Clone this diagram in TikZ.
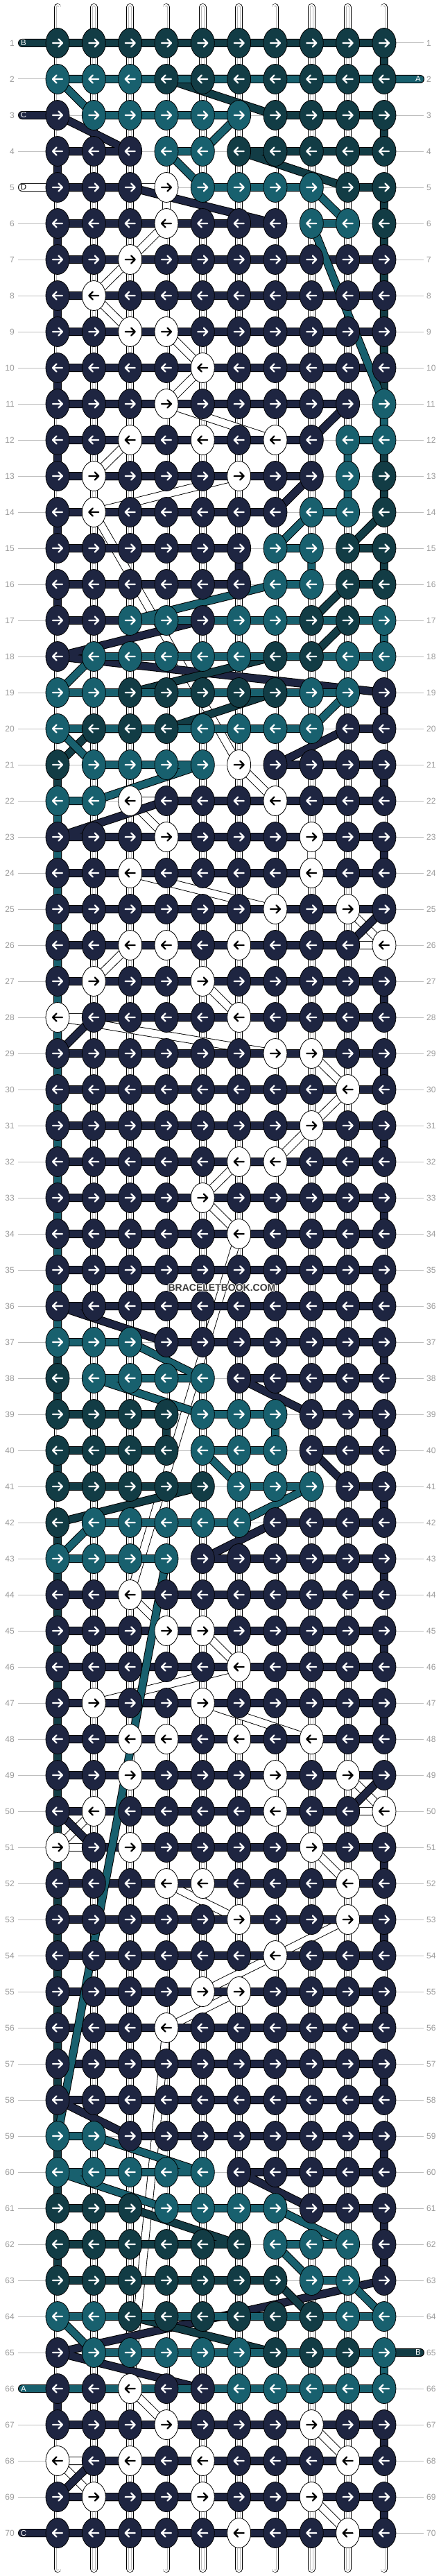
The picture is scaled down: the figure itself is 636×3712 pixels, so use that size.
\documentclass[tikz,border=0pt]{standalone}
\usepackage{fontspec}
\setmainfont{Liberation Sans}
\usetikzlibrary{shapes.geometric}

\definecolor{colA}{HTML}{18606E}
\definecolor{colB}{HTML}{123C45}
\definecolor{colC}{HTML}{1E2541}
\definecolor{colD}{HTML}{FFFFFF}
\definecolor{labgray}{HTML}{9A9A9A}
\definecolor{linegray}{HTML}{BEBEBE}
\definecolor{wmgray}{HTML}{3A3A3A}

\pgfdeclarelayer{strings}
\pgfdeclarelayer{threads}
\pgfsetlayers{strings,threads,main}

% colour of every knot, row by row, read from left to right
\newcommand{\knotrows}{%
1/BBBBBBBBBB,2/AAABBBBBBB,3/CAAAAABBBB,4/CCCAABBBBB,5/CCCDAAAABB,%
6/CCCDCCCAAB,7/CCDCCCCCCC,8/CDCCCCCCCC,9/CCDDCCCCCC,10/CCCCDCCCCC,%
11/CCCDCCCCCA,12/CCDCDCDCAA,13/CDCCCDCCAB,14/CDCCCCCAAB,15/CCCCCCAABB,%
16/CCCCCCAABB,17/CCAACAABBA,18/CAAAAABBAA,19/AABBBBBAAC,20/ABBBAAAACC,%
21/BAAAADCCCC,22/AADCCCDCCC,23/CCCDCCCDCC,24/CCDCCCCDCC,25/CCCCCCDCDC,%
26/CCDDCDCCCD,27/CDCCDCCCCC,28/DCCCCDCCCC,29/CCCCCCDDCC,30/CCCCCCCCDC,%
31/CCCCCCCDCC,32/CCCCCDDCCC,33/CCCCDCCCCC,34/CCCCCDCCCC,35/CCCCCCCCCC,%
36/CCCCCCCCCC,37/AAACCCCCCC,38/BAAAACCCCC,39/BBBBAAACCC,40/BBBBAAACCC,%
41/BBBBBAAACC,42/BAAAAACCCC,43/AAAACCCCCC,44/CCDCCCCCCC,45/CCCDDCCCCC,%
46/CCCCCDCCCC,47/CDCCDCCCCC,48/CCDDCDCDCC,49/CCDCCCDCDC,50/CDCCCCDCCD,%
51/DCDCCCCDCC,52/CCCDDCCCDC,53/CCCCCDCCDC,54/CCCCCCDCCC,55/CCCCDDCCCC,%
56/CCCDCCCCCC,57/CCCCCCCCCC,58/CCCCCCCCCC,59/AACCCCCCCC,60/AAAAACCCCC,%
61/BBBAAAACCC,62/BBBBBBAAAC,63/BBBBBBBAAC,64/AABBBBBBAA,65/CAAAAABBBA,%
66/CCDCCAAAAA,67/CCCDCCCDCC,68/DCDCDCCCDC,69/CDCCDCCDCC,70/CCCCCDCCDC}

\newcount\knotcol
\newcommand{\storerow}[2]{\global\knotcol=0 \def\knotrowno{#1}\storeknot#2\relax}
\def\storeknot#1{%
  \ifx#1\relax\else
    \global\advance\knotcol by 1
    \expandafter\xdef\csname kc-\knotrowno-\the\knotcol\endcsname{#1}%
    \expandafter\storeknot
  \fi}

\begin{document}
\begin{tikzpicture}[x=1pt, y=-1pt, % one unit is one pixel, y runs down
  knot/.style={ellipse, draw=black, line width=0.8pt, minimum width=34pt,
    minimum height=43pt, inner sep=0pt}, % every knot
  knotA/.style={fill=colA}, knotB/.style={fill=colB},
  knotC/.style={fill=colC}, knotD/.style={fill=colD},
  arrowA/.style={draw=white, line width=2.3pt, line cap=round, line join=round},
  arrowB/.style={arrowA}, arrowC/.style={arrowA},
  arrowD/.style={arrowA, draw=black},
  threadedge/.style={draw=black, line width=12pt, line cap=round, line join=round},
  threadA/.style={threadedge, draw=colA, line width=10pt},
  threadB/.style={threadedge, draw=colB, line width=10pt},
  threadC/.style={threadedge, draw=colC, line width=10pt},
  threadD/.style={threadedge, draw=white, line width=10.2pt},
  warpedge/.style={draw=black, line width=10.5pt, line cap=round},
  warpfill/.style={draw=white, line width=9pt, line cap=round},
  warpmid/.style={draw=gray!55, line width=4.6pt, line cap=round},
  warpcore/.style={draw=white, line width=3pt, line cap=round},
  rowlab/.style={text=labgray, font=\fontsize{12}{12}\selectfont, inner sep=0pt},
  rowline/.style={draw=linegray, line width=1pt, shorten <=5pt, shorten >=4pt},
  taglab/.style={text=white, font=\fontsize{11.5}{11.5}\selectfont, inner sep=0pt},
  wmark/.style={text=wmgray, font=\bfseries\fontsize{14}{14}\selectfont, inner sep=0pt}
]
  \useasboundingbox (0,0) rectangle (636,3712);

  \foreach \rr/\rowcols in \knotrows {\edef\next{\noexpand\storerow{\rr}{\rowcols}}\next}

  % knots, arrows and row numbers
  \foreach \rr in {1,...,70}{
    \pgfmathsetmacro\ky{62+(\rr-1)*52}
    \ifodd\rr \def\kdir{1}\else \def\kdir{-1}\fi
    \pgfmathsetmacro\ashaft{-7*\kdir}
    \pgfmathsetmacro\alen{14*\kdir}
    \pgfmathsetmacro\ahead{-5.5*\kdir}
    \pgfmathsetmacro\aback{5.5*\kdir}
    \node[rowlab, anchor=east] (lab-l-\rr) at (21,\ky) {\rr};
    \node[rowlab, anchor=west] (lab-r-\rr) at (615,\ky) {\rr};
    \foreach \cc in {1,...,10}{
      \pgfmathsetmacro\kx{83+(\cc-1)*52.33}
      \edef\kc{\csname kc-\rr-\cc\endcsname}
      \edef\placeknot{\noexpand\node[knot, knot\kc] (k-\rr-\cc) at (\kx,\ky) {};
        \noexpand\draw[arrow\kc] (k-\rr-\cc.center) ++(\ashaft,0) -- ++(\alen,0)
          ++(\ahead,-5.5) -- ++(\aback,5.5) -- ++(\ahead,5.5);}
      \placeknot
    }
  }

  % ends of the four threads
  \coordinate (tagB-in) at (32,62);
  \coordinate (tagA-in) at (606,114);
  \coordinate (tagC-in) at (32,166);
  \coordinate (tagD-in) at (32,270);
  \coordinate (tagB-out) at (606,3390);
  \coordinate (tagA-out) at (32,3442);
  \coordinate (tagC-out) at (32,3650);
  \node[taglab] (lab-B-in) at (34,62) {B};
  \node[taglab] (lab-A-in) at (603,114) {A};
  \node[taglab] (lab-C-in) at (34,166) {C};
  \node[taglab, text=black] (lab-D-in) at (34,270) {D};
  \node[taglab] (lab-B-out) at (603,3390) {B};
  \node[taglab] (lab-A-out) at (34,3442) {A};
  \node[taglab] (lab-C-out) at (34,3650) {C};

  % watermark
  \foreach \dx/\dy [count=\i] in {-1/0,1/0,0/-1,0/1,-0.7/-0.7,0.7/0.7,-0.7/0.7,0.7/-0.7}
    \node[wmark, text=white] (wm-halo-\i) at (320+\dx,1856+\dy) {BRACELETBOOK.COM};
  \node[wmark] (wm) at (320,1856) {BRACELETBOOK.COM};

  \begin{pgfonlayer}{strings}
    \foreach \rr in {1,...,70}
      \draw[rowline] (lab-l-\rr.east) -- (lab-r-\rr.west);
    \foreach \cc in {1,...,10}{
      \coordinate (w-\cc-top) at ({83+(\cc-1)*52.33},10.25);
      \coordinate (w-\cc-bot) at ({83+(\cc-1)*52.33},3701.75);
      \draw[warpedge] (w-\cc-top) -- (w-\cc-bot);
      \draw[warpfill] (w-\cc-top) -- (w-\cc-bot);
      \draw[warpmid] (w-\cc-top) -- (w-\cc-bot);
      \draw[warpcore] (w-\cc-top) -- (w-\cc-bot);
    }
  \end{pgfonlayer}

  % each thread runs through its own knots in working order
  \begin{pgfonlayer}{threads}
    \foreach \thr/\thbeg/\thend in {D/tagD-in/,C/tagC-in/tagC-out,B/tagB-in/tagB-out,A/tagA-in/tagA-out}{
      \xdef\thpath{(\thbeg)}
      \foreach \rr in {1,...,70}{
        \ifodd\rr \def\cols{1,...,10}\else \def\cols{10,9,...,1}\fi
        \foreach \cc in \cols{
          \edef\kc{\csname kc-\rr-\cc\endcsname}
          \ifx\kc\thr \xdef\thpath{\thpath -- (k-\rr-\cc.center)}\fi
        }
      }
      \ifx\thend\empty\else \xdef\thpath{\thpath -- (\thend)}\fi
      \edef\drawthread{\noexpand\draw[threadedge] \thpath; \noexpand\draw[thread\thr] \thpath;}
      \drawthread
    }
  \end{pgfonlayer}
\end{tikzpicture}
\end{document}
